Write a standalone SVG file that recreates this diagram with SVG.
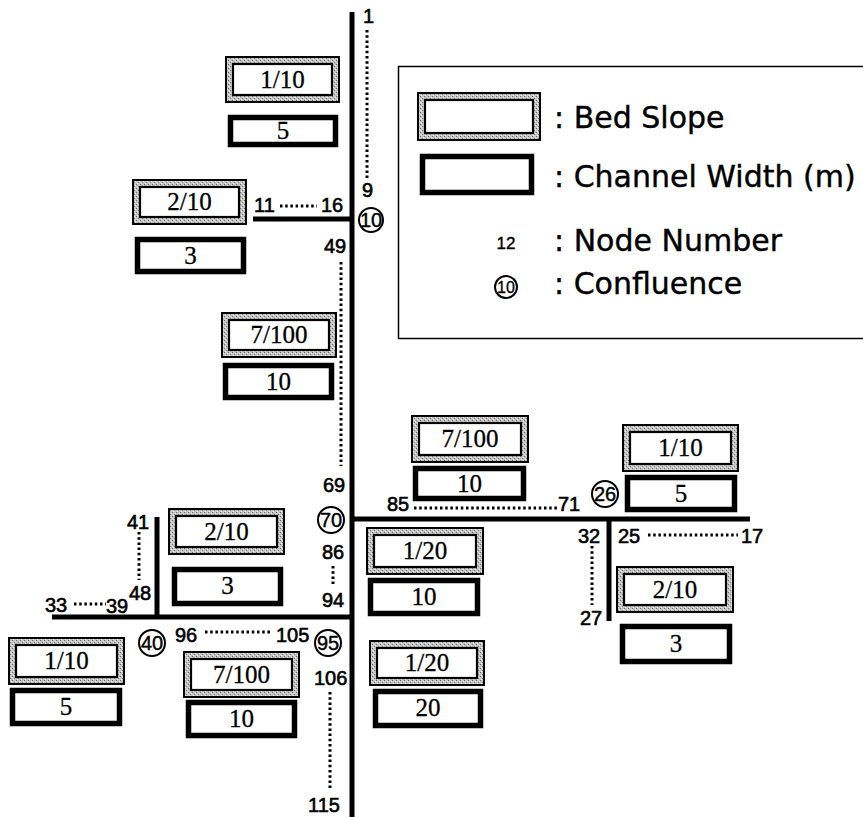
<svg xmlns="http://www.w3.org/2000/svg" width="863" height="817" viewBox="0 0 863 817">
<defs>
<pattern id="dith" width="4" height="4" patternUnits="userSpaceOnUse">
<rect width="4" height="4" fill="#c4c4c4"/>
<rect x="0" y="0" width="1" height="1" fill="#6a6a6a"/>
<rect x="2" y="2" width="1" height="1" fill="#7a7a7a"/>
<rect x="1" y="3" width="1" height="1" fill="#f2f2f2"/>
<rect x="3" y="1" width="1" height="1" fill="#ececec"/>
</pattern>
<style>
.bo{fill:url(#dith);stroke:#000;stroke-width:2}
.bi{fill:#fff;stroke:#000;stroke-width:2.2}
.cw{fill:#fff;stroke:#000;stroke-width:5.5}
.bl{font-family:"Liberation Serif","Times New Roman",serif;font-size:25px;text-anchor:middle;fill:#000;stroke:#000;stroke-width:0.3}
.nn{font-family:"Liberation Sans",Arial,sans-serif;font-size:20px;fill:#000;stroke:#000;stroke-width:0.6}
.cc{fill:#fff;stroke:#000;stroke-width:2}
.ct{font-family:"Liberation Sans",Arial,sans-serif;font-size:20px;text-anchor:middle;fill:#000;stroke:#000;stroke-width:0.4}
.ch{stroke:#000;stroke-width:5;fill:none}
.dt{stroke:#000;stroke-width:3;stroke-dasharray:2.5 2.7;fill:none}
.lg{font-family:"DejaVu Sans",Verdana,sans-serif;font-size:30px;fill:#000;stroke:#000;stroke-width:0.4}
</style>
</defs>
<rect width="863" height="817" fill="#fff"/>

<g id="connectors">
<line class="ch" x1="352" y1="12" x2="352" y2="817"/>
<line class="ch" x1="253" y1="219" x2="352" y2="219"/>
<line class="ch" x1="352" y1="519" x2="750" y2="519"/>
<line class="ch" x1="609" y1="519" x2="609" y2="621"/>
<line class="ch" x1="52" y1="617" x2="352" y2="617"/>
<line class="ch" x1="157" y1="517" x2="157" y2="617"/>
<line class="dt" x1="367" y1="30" x2="367" y2="178"/>
<line class="dt" x1="280" y1="206" x2="317" y2="206"/>
<line class="dt" x1="341" y1="262" x2="341" y2="466"/>
<line class="dt" x1="414" y1="508" x2="557" y2="508"/>
<line class="dt" x1="648" y1="535" x2="738" y2="535"/>
<line class="dt" x1="592" y1="546" x2="592" y2="605"/>
<line class="dt" x1="333" y1="566" x2="333" y2="586"/>
<line class="dt" x1="139" y1="532" x2="139" y2="580"/>
<line class="dt" x1="74" y1="604" x2="106" y2="604"/>
<line class="dt" x1="205" y1="632" x2="271" y2="632"/>
<line class="dt" x1="330" y1="692" x2="330" y2="790"/>
</g>

<g id="node-numbers">
<text class="nn" x="363" y="23">1</text>
<text class="nn" x="362" y="197">9</text>
<text class="nn" x="254" y="212">11</text>
<text class="nn" x="321" y="212">16</text>
<text class="nn" x="324" y="253">49</text>
<text class="nn" x="323" y="492">69</text>
<text class="nn" x="387" y="511">85</text>
<text class="nn" x="558" y="511">71</text>
<text class="nn" x="578" y="543">32</text>
<text class="nn" x="618" y="543">25</text>
<text class="nn" x="741" y="543">17</text>
<text class="nn" x="580" y="625">27</text>
<text class="nn" x="322" y="559">86</text>
<text class="nn" x="322" y="607">94</text>
<text class="nn" x="127" y="529">41</text>
<text class="nn" x="129" y="600">48</text>
<text class="nn" x="45" y="612">33</text>
<text class="nn" x="106" y="613">39</text>
<text class="nn" x="175" y="642">96</text>
<text class="nn" x="276" y="642">105</text>
<text class="nn" x="314" y="685">106</text>
<text class="nn" x="308" y="812">115</text>
</g>

<g id="confluence-10"><circle class="cc" cx="371" cy="220" r="12"/><text class="ct" x="371" y="227">10</text></g>
<g id="confluence-70"><circle class="cc" cx="331" cy="520" r="13"/><text class="ct" x="331" y="527">70</text></g>
<g id="confluence-26"><circle class="cc" cx="605" cy="494" r="13"/><text class="ct" x="605" y="501">26</text></g>
<g id="confluence-40"><circle class="cc" cx="152" cy="643" r="13"/><text class="ct" x="152" y="650">40</text></g>
<g id="confluence-95"><circle class="cc" cx="328" cy="643" r="13"/><text class="ct" x="328" y="650">95</text></g>

<g id="reach-A">
<rect class="bo" x="226" y="57" width="113" height="45"/><rect class="bi" x="233" y="64" width="99" height="31"/><text class="bl" x="282.5" y="88">1/10</text>
<rect class="cw" x="230.5" y="117.5" width="105" height="27"/><text class="bl" x="283" y="139">5</text>
</g>
<g id="reach-B">
<rect class="bo" x="133" y="180" width="113" height="44"/><rect class="bi" x="140" y="187" width="99" height="30"/><text class="bl" x="189.5" y="210">2/10</text>
<rect class="cw" x="137.5" y="239.5" width="106" height="32"/><text class="bl" x="190.5" y="264">3</text>
</g>
<g id="reach-C">
<rect class="bo" x="222" y="313" width="114" height="44"/><rect class="bi" x="229" y="320" width="100" height="30"/><text class="bl" x="279" y="343">7/100</text>
<rect class="cw" x="225.5" y="365.5" width="106" height="32"/><text class="bl" x="278.5" y="390">10</text>
</g>
<g id="reach-D">
<rect class="bo" x="412" y="416" width="116" height="46"/><rect class="bi" x="419" y="423" width="102" height="32"/><text class="bl" x="470" y="447">7/100</text>
<rect class="cw" x="415.5" y="468.5" width="108" height="30"/><text class="bl" x="469.5" y="492">10</text>
</g>
<g id="reach-E">
<rect class="bo" x="623" y="425" width="115" height="46"/><rect class="bi" x="630" y="432" width="101" height="32"/><text class="bl" x="680.5" y="456">1/10</text>
<rect class="cw" x="627.5" y="477.5" width="107" height="32"/><text class="bl" x="681" y="502">5</text>
</g>
<g id="reach-F">
<rect class="bo" x="367" y="528" width="116" height="46"/><rect class="bi" x="374" y="535" width="102" height="32"/><text class="bl" x="425" y="559">1/20</text>
<rect class="cw" x="370.5" y="580.5" width="107" height="33"/><text class="bl" x="424" y="605">10</text>
</g>
<g id="reach-G">
<rect class="bo" x="617" y="567" width="116" height="45"/><rect class="bi" x="624" y="574" width="102" height="31"/><text class="bl" x="675" y="598">2/10</text>
<rect class="cw" x="622.5" y="626.5" width="107" height="35"/><text class="bl" x="676" y="652">3</text>
</g>
<g id="reach-H">
<rect class="bo" x="169" y="509" width="115" height="45"/><rect class="bi" x="176" y="516" width="101" height="31"/><text class="bl" x="226.5" y="540">2/10</text>
<rect class="cw" x="174.5" y="569.5" width="106" height="34"/><text class="bl" x="227.5" y="594">3</text>
</g>
<g id="reach-I">
<rect class="bo" x="9" y="638" width="115" height="46"/><rect class="bi" x="16" y="645" width="101" height="32"/><text class="bl" x="66.5" y="669">1/10</text>
<rect class="cw" x="12.5" y="690.5" width="107" height="33"/><text class="bl" x="66" y="715">5</text>
</g>
<g id="reach-J">
<rect class="bo" x="184" y="652" width="115" height="45"/><rect class="bi" x="191" y="659" width="101" height="31"/><text class="bl" x="241.5" y="683">7/100</text>
<rect class="cw" x="188.5" y="702.5" width="106" height="33"/><text class="bl" x="241.5" y="727">10</text>
</g>
<g id="reach-K">
<rect class="bo" x="370" y="641" width="114" height="44"/><rect class="bi" x="377" y="648" width="100" height="30"/><text class="bl" x="427" y="671">1/20</text>
<rect class="cw" x="375.5" y="691.5" width="105" height="34"/><text class="bl" x="428" y="716">20</text>
</g>

<g id="legend">
<rect x="398.5" y="66.5" width="480" height="272" fill="#fff" stroke="#000" stroke-width="1.5"/>
<rect class="bo" x="418" y="93" width="122" height="47"/><rect class="bi" x="425" y="100" width="108" height="33"/>
<text class="lg" x="554" y="128">: Bed Slope</text>
<rect class="cw" x="422.5" y="156.5" width="109" height="36"/>
<text class="lg" x="554" y="187">: Channel Width (m)</text>
<text x="506" y="249" font-family="Liberation Sans, Arial, sans-serif" font-size="17" text-anchor="middle" stroke="#000" stroke-width="0.4">12</text>
<text class="lg" x="554" y="251">: Node Number</text>
<circle class="cc" cx="506" cy="287" r="11"/><text x="506" y="293" font-family="Liberation Sans, Arial, sans-serif" font-size="16" text-anchor="middle" stroke="#000" stroke-width="0.3">10</text>
<text class="lg" x="554" y="294">: Confluence</text>
</g>
</svg>
